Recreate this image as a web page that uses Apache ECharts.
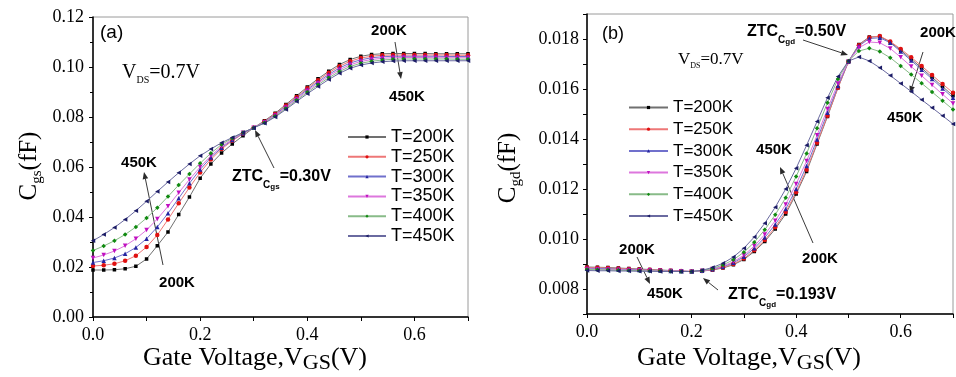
<!DOCTYPE html>
<html><head><meta charset="utf-8">
<script src="https://cdn.jsdelivr.net/npm/echarts@6/dist/echarts.min.js"></script>
<style>html,body{margin:0;padding:0;background:#fff}#c{width:956px;height:377px}</style>
</head><body><div id="c"></div>
<script>
const V = [0,0.02,0.04,0.06,0.08,0.10,0.12,0.14,0.16,0.18,0.20,0.22,0.24,0.26,0.28,0.30,0.32,0.34,0.36,0.38,0.40,0.42,0.44,0.46,0.48,0.50,0.52,0.54,0.56,0.58,0.60,0.62,0.64,0.66,0.68,0.70];
const names = ['T=200K','T=250K','T=300K','T=350K','T=400K','T=450K'];
// Panel (a): Cgs (fF)
const cgs200 = [0.0188,0.0188,0.0189,0.0193,0.0203,0.0232,0.0285,0.0340,0.0410,0.0480,0.0555,0.0612,0.0656,0.0692,0.0725,0.0757,0.0785,0.0815,0.0850,0.0885,0.0920,0.0953,0.0983,0.1010,0.1030,0.1043,0.1050,0.1053,0.1054,0.1054,0.1054,0.1054,0.1053,0.1053,0.1053,0.1053];
const cgs250 = [0.0204,0.0207,0.0213,0.0225,0.0245,0.0280,0.0328,0.0390,0.0455,0.0518,0.0578,0.0630,0.0672,0.0705,0.0733,0.0757,0.0782,0.0812,0.0846,0.0880,0.0915,0.0947,0.0977,0.1003,0.1023,0.1036,0.1043,0.1047,0.1048,0.1048,0.1048,0.1048,0.1048,0.1048,0.1047,0.1047];
const cgs300 = [0.0218,0.0225,0.0236,0.0253,0.0278,0.0313,0.0360,0.0415,0.0475,0.0535,0.0590,0.0638,0.0677,0.0708,0.0735,0.0757,0.0780,0.0809,0.0842,0.0876,0.0910,0.0941,0.0970,0.0996,0.1016,0.1029,0.1037,0.1041,0.1043,0.1043,0.1043,0.1043,0.1043,0.1042,0.1042,0.1042];
const cgs350 = [0.0236,0.0248,0.0264,0.0285,0.0313,0.0348,0.0392,0.0443,0.0497,0.0550,0.0600,0.0645,0.0682,0.0711,0.0737,0.0757,0.0779,0.0806,0.0838,0.0871,0.0905,0.0935,0.0964,0.0989,0.1009,0.1022,0.1030,0.1035,0.1037,0.1038,0.1038,0.1038,0.1037,0.1037,0.1037,0.1037];
const cgs400 = [0.0266,0.0284,0.0305,0.0330,0.0360,0.0396,0.0437,0.0482,0.0528,0.0572,0.0615,0.0655,0.0690,0.0715,0.0738,0.0757,0.0777,0.0803,0.0834,0.0867,0.0899,0.0929,0.0957,0.0982,0.1002,0.1015,0.1023,0.1028,0.1031,0.1032,0.1032,0.1032,0.1032,0.1032,0.1031,0.1031];
const cgs450 = [0.0305,0.0330,0.0358,0.0390,0.0425,0.0463,0.0502,0.0540,0.0577,0.0612,0.0645,0.0672,0.0697,0.0718,0.0738,0.0757,0.0775,0.0800,0.0830,0.0862,0.0893,0.0922,0.0950,0.0975,0.0995,0.1008,0.1016,0.1021,0.1024,0.1025,0.1025,0.1025,0.1025,0.1025,0.1025,0.1025];
// Panel (b): Cgd (fF)
const cgd200 = [0.00888,0.00887,0.00886,0.00884,0.00882,0.00880,0.00878,0.00876,0.00874,0.00872,0.00870,0.00872,0.00876,0.00884,0.00897,0.00918,0.00950,0.00990,0.01040,0.01100,0.01180,0.01270,0.01380,0.01490,0.01605,0.01710,0.01778,0.01808,0.01810,0.01788,0.01755,0.01720,0.01684,0.01647,0.01610,0.01573];
const cgd250 = [0.00886,0.00885,0.00884,0.00882,0.00880,0.00878,0.00877,0.00875,0.00873,0.00872,0.00870,0.00872,0.00877,0.00886,0.00900,0.00922,0.00955,0.00996,0.01047,0.01108,0.01187,0.01277,0.01385,0.01493,0.01605,0.01708,0.01775,0.01806,0.01812,0.01790,0.01760,0.01727,0.01692,0.01656,0.01620,0.01585];
const cgd300 = [0.00883,0.00882,0.00881,0.00879,0.00878,0.00876,0.00875,0.00874,0.00872,0.00871,0.00870,0.00873,0.00879,0.00889,0.00905,0.00929,0.00963,0.01006,0.01058,0.01120,0.01200,0.01292,0.01398,0.01505,0.01612,0.01710,0.01772,0.01802,0.01805,0.01785,0.01750,0.01714,0.01677,0.01640,0.01602,0.01565];
const cgd350 = [0.00880,0.00879,0.00878,0.00877,0.00876,0.00875,0.00874,0.00873,0.00872,0.00871,0.00870,0.00873,0.00880,0.00891,0.00909,0.00935,0.00972,0.01018,0.01073,0.01138,0.01220,0.01312,0.01415,0.01520,0.01622,0.01710,0.01765,0.01788,0.01785,0.01762,0.01727,0.01690,0.01653,0.01616,0.01579,0.01542];
const cgd400 = [0.00878,0.00877,0.00876,0.00875,0.00874,0.00873,0.00872,0.00872,0.00871,0.00870,0.00870,0.00874,0.00882,0.00896,0.00917,0.00947,0.00987,0.01037,0.01097,0.01165,0.01250,0.01342,0.01443,0.01545,0.01640,0.01712,0.01752,0.01763,0.01750,0.01725,0.01692,0.01658,0.01623,0.01588,0.01553,0.01518];
const cgd450 = [0.00874,0.00873,0.00873,0.00872,0.00872,0.00871,0.00871,0.00870,0.00870,0.00870,0.00870,0.00875,0.00886,0.00903,0.00928,0.00963,0.01008,0.01063,0.01127,0.01200,0.01283,0.01375,0.01470,0.01565,0.01650,0.01712,0.01728,0.01712,0.01685,0.01654,0.01622,0.01590,0.01557,0.01525,0.01493,0.01460];

const cgsSets = [cgs200,cgs250,cgs300,cgs350,cgs400,cgs450];
const cgdSets = [cgd200,cgd250,cgd300,cgd350,cgd400,cgd450];
const lineColors = ['#707070','#ee7777','#7070cc','#dd77dd','#88bb88','#6a6aa0'];
const markColors = ['#000000','#e01010','#2424a0','#c010c0','#108a10','#1c1c66'];
const symbols = ['rect','circle','triangle','triangle','diamond','triangle'];
const rots = [0,0,0,180,0,90];

const SERIF = 'Liberation Serif';
const SANS = 'Liberation Sans';

const cv = document.createElement('canvas').getContext('2d');
function tw(t, size, fam, weight){ cv.font = (weight||'normal')+' '+size+'px "'+fam+'"'; return cv.measureText(t).width; }
// parts: [text, size, family, weight, dy]
function runParts(x0, y, parts){
  let x = x0; const out = [];
  parts.forEach(p => {
    const [t,s,f,w,dy] = p;
    out.push({type:'text', x:x, y:y+(dy||0), style:{text:t, fontSize:s, fontFamily:f, fontWeight:w||'normal', fill:'#000', align:'left', verticalAlign:'middle'}});
    x += tw(t,s,f,w);
  });
  return {els: out, width: x - x0};
}
function run(x0,y,parts){ return runParts(x0,y,parts).els; }
function rotRun(cx, cy, parts){
  const r = runParts(0,0,parts);
  r.els.forEach(e => { e.x -= r.width/2; });
  return [{type:'group', x:cx, y:cy, rotation:Math.PI/2, children:r.els}];
}
function arrow(x1,y1,x2,y2){
  const a = Math.atan2(y2-y1,x2-x1), L=7, W=2.8;
  const bx = x2-L*Math.cos(a), by = y2-L*Math.sin(a);
  const px = -Math.sin(a)*W, py = Math.cos(a)*W;
  return [
    {type:'line', shape:{x1:x1,y1:y1,x2:bx,y2:by}, style:{stroke:'#3a3a3a', lineWidth:1}},
    {type:'polygon', shape:{points:[[x2,y2],[bx+px,by+py],[bx-px,by-py]]}, style:{fill:'#2a2a2a'}}
  ];
}
function lbl(cx, cy, t, size){ return {type:'text', x:cx, y:cy, style:{text:t, fontSize:size||15, fontFamily:SANS, fontWeight:'bold', fill:'#000', align:'center', verticalAlign:'middle'}}; }

const series = [];
[cgsSets, cgdSets].forEach((sets, gi) => {
  sets.forEach((arr, k) => {
    series.push({
      name: names[k], type:'line', xAxisIndex:gi, yAxisIndex:gi,
      data: V.map((v,i) => [v, arr[i]]),
      symbol: symbols[k], symbolRotate: rots[k], symbolSize: k===0?3.5:4.5,
      showAllSymbol: true, animation:false, clip:true,
      lineStyle:{color: lineColors[k], width:1},
      itemStyle:{color: markColors[k]}
    });
  });
});

function xAx(gi){
  return {gridIndex:gi, type:'value', min:0, max:0.7, interval:0.1,
    axisLine:{show:true, onZero:false, lineStyle:{color:'#000', width:1.5}},
    axisTick:{show:true, length:4, lineStyle:{color:'#000', width:1}},
    axisLabel:{formatter: v => (Math.round(v*10)%2===0 ? v.toFixed(1) : ''), fontFamily:SERIF, fontSize:18, color:'#000', margin:9},
    splitLine:{show:false}};
}
const option = {
  backgroundColor:'#fff',
  animation:false,
  grid:[
    {left:93, top:17, width:375, height:300, show:true, borderColor:'#9a9a9a', borderWidth:1, backgroundColor:'#fff'},
    {left:587, top:14, width:374, height:300, show:true, borderColor:'#9a9a9a', borderWidth:1, backgroundColor:'#fff'}
  ],
  xAxis:[xAx(0), xAx(1)],
  yAxis:[
    {gridIndex:0, type:'value', min:0, max:0.12, interval:0.02,
      axisLine:{show:true, onZero:false, lineStyle:{color:'#000', width:1.5}},
      axisTick:{show:true, length:4, lineStyle:{color:'#000'}},
      minorTick:{show:true, splitNumber:2, length:3, lineStyle:{color:'#000'}},
      axisLabel:{formatter: v => v.toFixed(2), fontFamily:SERIF, fontSize:18, color:'#000', margin:9},
      splitLine:{show:false}},
    {gridIndex:1, type:'value', min:0.007, max:0.019, interval:0.001,
      axisLine:{show:true, onZero:false, lineStyle:{color:'#000', width:1.5}},
      axisTick:{show:true, length:4, lineStyle:{color:'#000'}},
      axisLabel:{formatter: v => (Math.round(v*1000)%2===0 ? v.toFixed(3) : ''), fontFamily:SERIF, fontSize:18, color:'#000', margin:8},
      splitLine:{show:false}}
  ],
  legend:[
    {left:347, top:128, padding:0, orient:'vertical', itemWidth:38, itemHeight:4, itemGap:1.8, selectedMode:false,
      data:names, textStyle:{fontFamily:SANS, fontSize:18, lineHeight:18, color:'#000'}},
    {left:628, top:99, padding:0, orient:'vertical', itemWidth:39, itemHeight:4, itemGap:4.7, selectedMode:false,
      data:names, textStyle:{fontFamily:SANS, fontSize:17, lineHeight:17, color:'#000'}}
  ],
  series: series,
  graphic: [].concat(
    // panel (a)
    [{type:'text', x:100, y:33, style:{text:'(a)', fontSize:19, fontFamily:SANS, fill:'#000', align:'left', verticalAlign:'middle'}}],
    run(122, 73, [['V',20,SERIF],['DS',10,SERIF,'normal',7],['=0.7V',20,SERIF]]),
    [lbl(389,31,'200K'), lbl(407,97,'450K'), lbl(139,163,'450K'), lbl(177,283,'200K')],
    arrow(395,42,401,79), arrow(163,265,144,172), arrow(274,168,255,130),
    run(232, 177, [['ZTC',16,SANS,'bold'],['C',10,SANS,'bold',8],['gs',8,SANS,'bold',10],['=0.30V',16,SANS,'bold']]),
    rotRun(29, 166, [['C',25,SERIF],['gs',15,SERIF,'normal',8],['(fF)',25,SERIF]]),
    run(143, 358, [['Gate Voltage,V',26,SERIF],['GS',22,SERIF,'normal',5],['(V)',26,SERIF]]),
    // panel (b)
    [{type:'text', x:602, y:34, style:{text:'(b)', fontSize:18, fontFamily:SANS, fill:'#000', align:'left', verticalAlign:'middle'}}],
    run(678, 60, [['V',17,SERIF],['DS',8,SERIF,'normal',6],['=0.7V',17,SERIF]]),
    run(747, 32, [['ZTC',16,SANS,'bold'],['C',10,SANS,'bold',8],['gd',8,SANS,'bold',10],['=0.50V',16,SANS,'bold']]),
    arrow(803,40,848,55),
    [lbl(938,33,'200K'), lbl(905,118,'450K'), lbl(774,150,'450K'), lbl(820,259,'200K'), lbl(637,250,'200K'), lbl(665,294,'450K')],
    arrow(923,52,910,93), arrow(813,243,780,167), arrow(637,257,650,284), arrow(718,290,703,278),
    run(728, 295, [['ZTC',16,SANS,'bold'],['C',10,SANS,'bold',8],['gd',8,SANS,'bold',10],['=0.193V',16,SANS,'bold']]),
    rotRun(508, 168, [['C',25,SERIF],['gd',15,SERIF,'normal',8],['(fF)',25,SERIF]]),
    run(637, 358, [['Gate Voltage,V',26,SERIF],['GS',22,SERIF,'normal',5],['(V)',26,SERIF]])
  )
};
const chart = echarts.init(document.getElementById('c'), null, {renderer:'canvas'});
chart.setOption(option);
</script></body></html>
